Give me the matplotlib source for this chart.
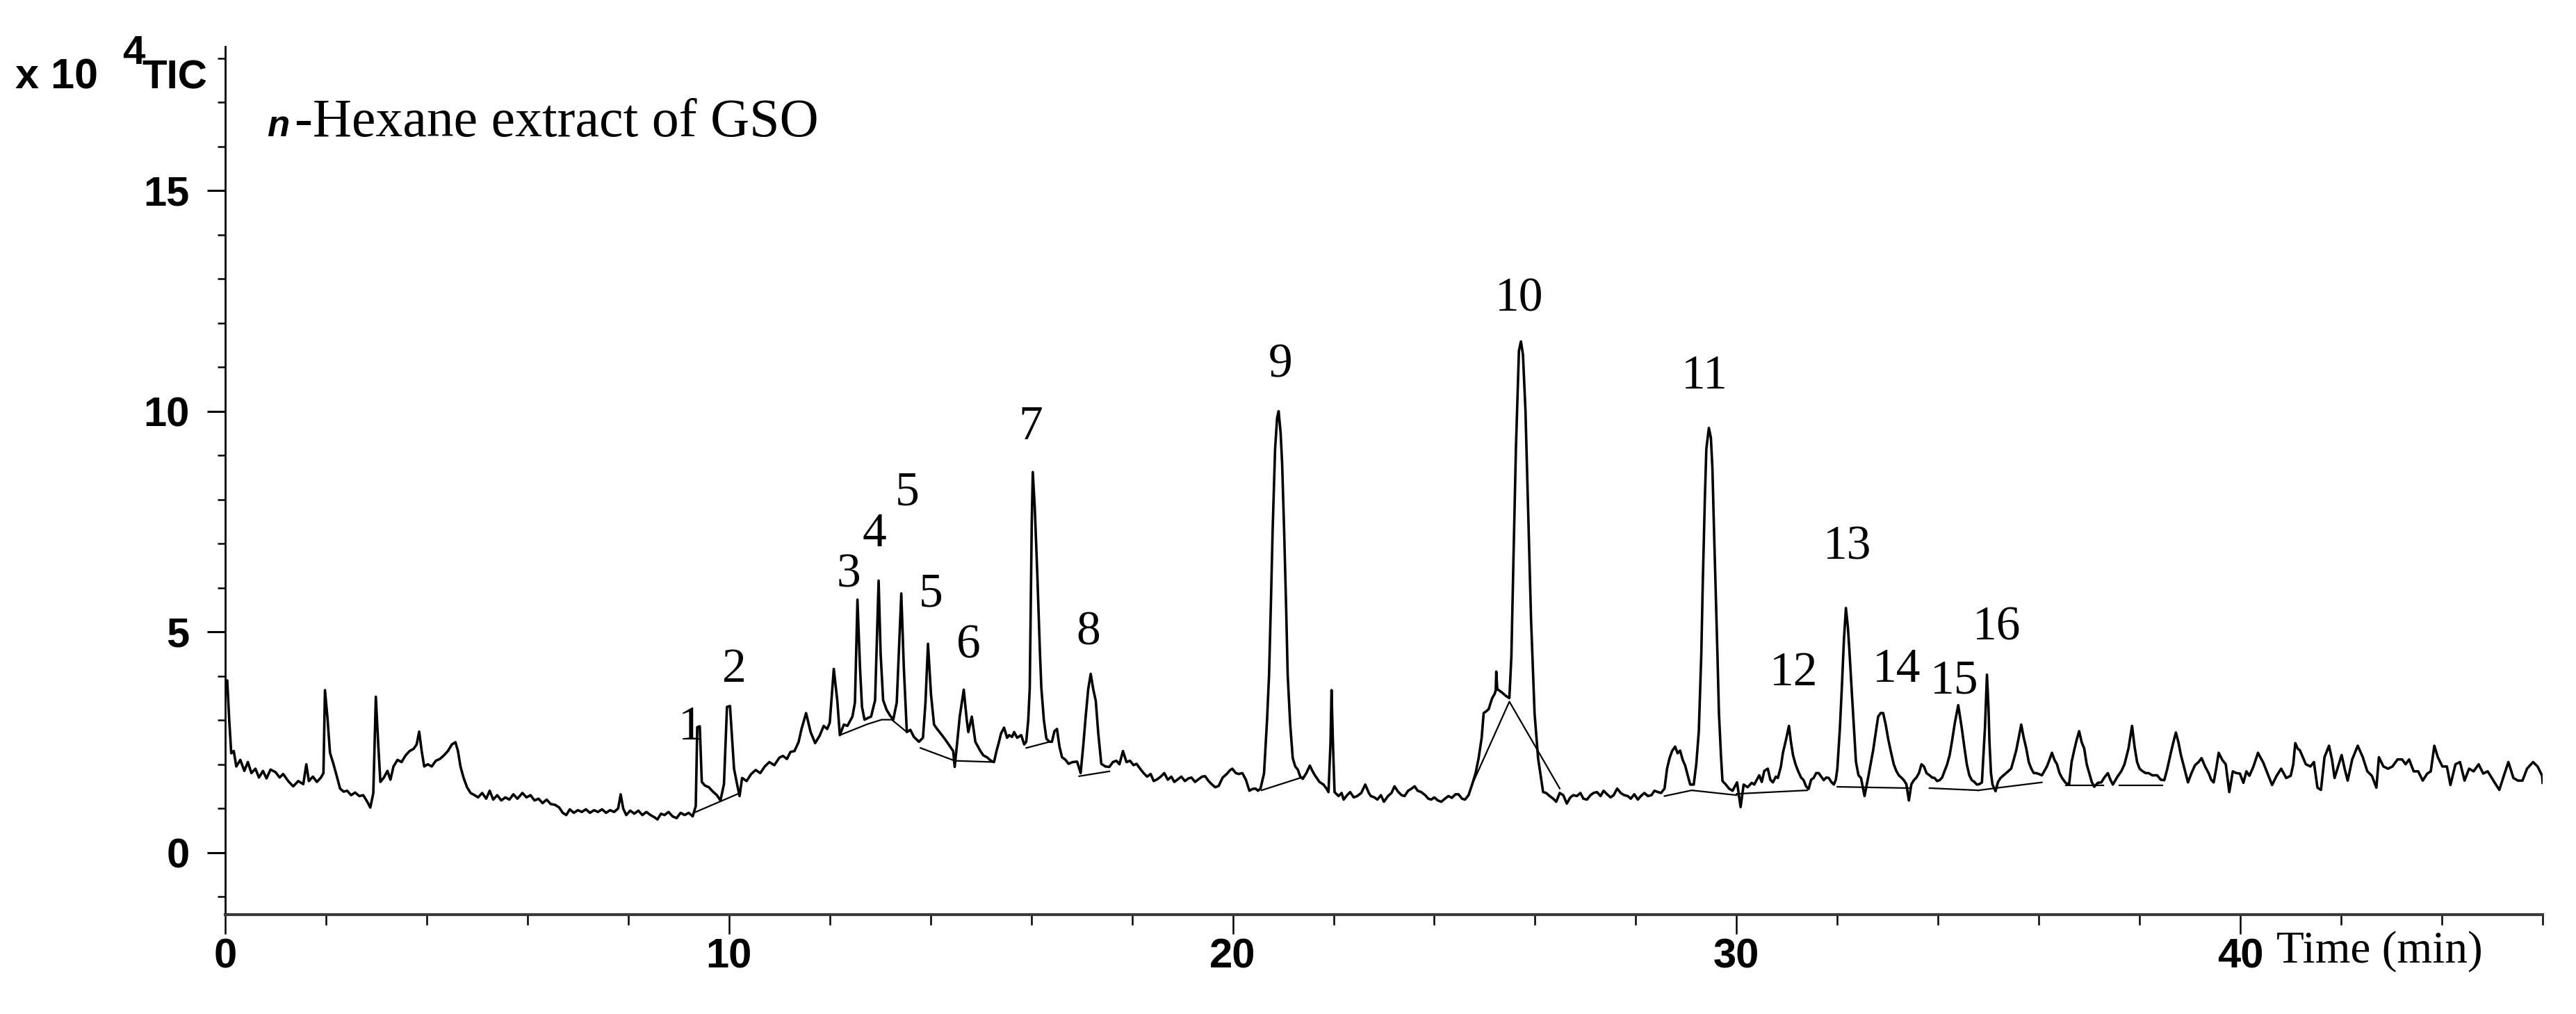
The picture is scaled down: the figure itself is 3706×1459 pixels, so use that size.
import matplotlib
matplotlib.use("Agg")
import matplotlib.pyplot as plt
from matplotlib.ticker import MultipleLocator, FixedLocator

# ---------------- data ----------------
time_min = [
    0.00, 0.04, 0.08, 0.12, 0.17, 0.22, 0.30, 0.38, 0.45, 0.52, 0.60, 0.67, 0.75, 0.82, 0.90, 1.00,
    1.08, 1.15, 1.25, 1.35, 1.45, 1.55, 1.61, 1.66, 1.74, 1.82, 1.90, 1.95, 1.98, 2.03, 2.08, 2.15,
    2.21, 2.28, 2.35, 2.42, 2.50, 2.58, 2.66, 2.74, 2.82, 2.88, 2.94, 2.99, 3.04, 3.08, 3.15, 3.22,
    3.28, 3.34, 3.42, 3.50, 3.58, 3.66, 3.74, 3.80, 3.85, 3.90, 3.95, 4.02, 4.10, 4.18, 4.26, 4.34,
    4.42, 4.50, 4.57, 4.62, 4.67, 4.73, 4.80, 4.87, 4.95, 5.02, 5.10, 5.18, 5.25, 5.32, 5.40, 5.48,
    5.56, 5.64, 5.72, 5.80, 5.90, 5.98, 6.06, 6.14, 6.22, 6.30, 6.38, 6.46, 6.55, 6.63, 6.70, 6.77,
    6.84, 6.92, 7.00, 7.08, 7.16, 7.24, 7.32, 7.40, 7.48, 7.56, 7.64, 7.72, 7.80, 7.85, 7.90, 7.96,
    8.04, 8.12, 8.20, 8.28, 8.36, 8.44, 8.52, 8.58, 8.65, 8.72, 8.80, 8.88, 8.96, 9.04, 9.12, 9.20,
    9.28, 9.34, 9.37, 9.42, 9.46, 9.52, 9.60, 9.68, 9.76, 9.83, 9.90, 9.96, 10.02, 10.06, 10.10, 10.16,
    10.21, 10.26, 10.35, 10.44, 10.53, 10.62, 10.71, 10.80, 10.90, 11.00, 11.07, 11.15, 11.22, 11.30, 11.38, 11.44,
    11.53, 11.62, 11.71, 11.80, 11.88, 11.95, 12.00, 12.08, 12.15, 12.20, 12.28, 12.35, 12.45, 12.50, 12.55, 12.60,
    12.64, 12.69, 12.76, 12.82, 12.90, 12.97, 13.01, 13.06, 13.13, 13.20, 13.26, 13.33, 13.42, 13.47, 13.53, 13.60,
    13.67, 13.77, 13.85, 13.90, 13.95, 14.01, 14.07, 14.13, 14.18, 14.28, 14.36, 14.45, 14.48, 14.53, 14.58, 14.66,
    14.72, 14.75, 14.82, 14.89, 14.99, 15.05, 15.12, 15.20, 15.26, 15.31, 15.36, 15.40, 15.46, 15.52, 15.56, 15.62,
    15.66, 15.72, 15.80, 15.86, 15.90, 15.94, 15.97, 16.01, 16.03, 16.07, 16.12, 16.17, 16.20, 16.25, 16.30, 16.36,
    16.41, 16.46, 16.51, 16.56, 16.61, 16.68, 16.74, 16.82, 16.91, 16.98, 17.03, 17.08, 17.13, 17.18, 17.23, 17.28,
    17.33, 17.39, 17.47, 17.55, 17.62, 17.69, 17.75, 17.82, 17.89, 17.96, 18.03, 18.09, 18.16, 18.23, 18.30, 18.37,
    18.43, 18.50, 18.57, 18.64, 18.71, 18.78, 18.84, 18.91, 18.98, 19.05, 19.12, 19.18, 19.25, 19.32, 19.39, 19.45,
    19.52, 19.58, 19.65, 19.72, 19.80, 19.88, 19.94, 19.99, 20.06, 20.12, 20.19, 20.26, 20.33, 20.39,
    20.45, 20.50, 20.55, 20.62, 20.68, 20.72, 20.76, 20.79, 20.84, 20.88, 20.91, 20.95, 20.98, 21.02, 21.06, 21.09,
    21.14, 21.19, 21.24, 21.29, 21.34, 21.39, 21.46, 21.53, 21.58, 21.63, 21.72, 21.80, 21.86, 21.90, 21.94, 21.96,
    21.99, 22.02, 22.10, 22.16, 22.20, 22.27, 22.33, 22.40, 22.47, 22.55, 22.63, 22.70, 22.74, 22.81, 22.87, 22.94,
    23.00, 23.08, 23.15, 23.21, 23.28, 23.35, 23.41, 23.48, 23.55, 23.61, 23.67, 23.74, 23.82, 23.88, 23.94, 24.00,
    24.07, 24.14, 24.21, 24.28, 24.35, 24.42, 24.48, 24.55, 24.61, 24.68, 24.75, 24.82, 24.88, 24.94, 24.98, 25.03,
    25.08, 25.12, 25.15, 25.20, 25.22, 25.23, 25.25, 25.28, 25.35, 25.42, 25.49, 25.53, 25.57, 25.62, 25.68, 25.72,
    25.76, 25.81, 25.86, 25.92, 25.99, 26.06, 26.16, 26.22, 26.29, 26.36, 26.42, 26.49, 26.56, 26.63, 26.70, 26.76,
    26.83, 26.90, 26.96, 27.03, 27.10, 27.16, 27.23, 27.30, 27.36, 27.43, 27.50, 27.56, 27.63, 27.70, 27.77, 27.84,
    27.90, 27.97, 28.04, 28.10, 28.17, 28.24, 28.31, 28.37, 28.44, 28.50, 28.57, 28.62, 28.67, 28.72, 28.78, 28.83,
    28.88, 28.93, 28.98, 29.03, 29.08, 29.15, 29.20, 29.25, 29.30, 29.33, 29.37, 29.40, 29.45, 29.49, 29.52, 29.55,
    29.58, 29.62, 29.65, 29.69, 29.72, 29.78, 29.85, 29.92,
    30.01, 30.08, 30.14, 30.22, 30.30, 30.35, 30.45, 30.50, 30.55, 30.62, 30.67, 30.72, 30.78, 30.82, 30.88, 30.92,
    30.98, 31.04, 31.08, 31.12, 31.17, 31.22, 31.28, 31.33, 31.38, 31.43, 31.48, 31.53, 31.58, 31.63, 31.68, 31.73,
    31.78, 31.83, 31.88, 31.93, 31.97, 32.00, 32.05, 32.09, 32.13, 32.17, 32.21, 32.24, 32.30, 32.37, 32.42, 32.47,
    32.54, 32.61, 32.66, 32.71, 32.76, 32.81, 32.86, 32.91, 32.96, 33.01, 33.06, 33.12, 33.17, 33.22, 33.27, 33.32,
    33.37, 33.42, 33.47, 33.52, 33.57, 33.62, 33.67, 33.72, 33.77, 33.83, 33.88, 33.93, 33.98, 34.03, 34.08, 34.13,
    34.18, 34.23, 34.28, 34.33, 34.40, 34.47, 34.52, 34.57, 34.62, 34.67, 34.72, 34.77, 34.82, 34.87, 34.90, 34.93,
    34.97, 35.00, 35.02, 35.05, 35.08, 35.14, 35.19, 35.24, 35.30, 35.35, 35.40, 35.45, 35.50, 35.55, 35.60, 35.65,
    35.70, 35.75, 35.80, 35.85, 35.90, 35.95, 36.00, 36.06, 36.11, 36.16, 36.21, 36.26, 36.31, 36.36, 36.41, 36.46,
    36.53, 36.60, 36.65, 36.70, 36.75, 36.80, 36.85, 36.90, 36.95, 37.00, 37.05, 37.10, 37.17, 37.24, 37.30, 37.37,
    37.42, 37.47, 37.55, 37.64, 37.70, 37.78, 37.85, 37.90, 37.95, 38.00, 38.05, 38.12, 38.18, 38.25, 38.35, 38.42,
    38.49, 38.55, 38.62, 38.67, 38.72, 38.77, 38.82, 38.89, 38.96, 39.03, 39.10, 39.17, 39.23, 39.30, 39.37, 39.42,
    39.47, 39.52, 39.57, 39.64,
    39.71, 39.78, 39.85, 39.92, 39.99, 40.06, 40.12, 40.18, 40.26, 40.35, 40.40, 40.45, 40.54, 40.63, 40.72, 40.81,
    40.91, 41.00, 41.05, 41.09, 41.14, 41.18, 41.30, 41.39, 41.46, 41.53, 41.60, 41.67, 41.76, 41.82, 41.87, 41.94,
    42.01, 42.07, 42.13, 42.22, 42.33, 42.43, 42.52, 42.61, 42.70, 42.75, 42.84, 42.93, 43.02, 43.12, 43.21, 43.28,
    43.35, 43.44, 43.53, 43.62, 43.71, 43.78, 43.85, 43.92, 44.01, 44.10, 44.17, 44.27, 44.36, 44.45, 44.54, 44.63,
    44.73, 44.82, 44.91, 45.05, 45.14, 45.23, 45.32, 45.42, 45.51, 45.60, 45.69, 45.81, 45.90, 45.99, 46.00,
]

tic_x1e4 = [
    3.85, 3.90, 3.00, 2.25, 2.30, 1.95, 2.10, 1.85, 2.05, 1.80, 1.90, 1.70, 1.85, 1.68, 1.88, 1.82,
    1.70, 1.78, 1.62, 1.50, 1.62, 1.55, 2.00, 1.62, 1.72, 1.60, 1.70, 1.80, 3.68, 3.05, 2.26, 2.00,
    1.75, 1.45, 1.38, 1.40, 1.30, 1.36, 1.28, 1.30, 1.15, 1.02, 1.35, 3.53, 2.40, 1.60, 1.70, 1.85,
    1.65, 1.95, 2.10, 2.05, 2.20, 2.30, 2.35, 2.45, 2.74, 2.30, 1.95, 2.00, 1.95, 2.08, 2.12, 2.20,
    2.30, 2.45, 2.50, 2.30, 1.95, 1.70, 1.48, 1.35, 1.30, 1.25, 1.35, 1.22, 1.40, 1.20, 1.30, 1.18,
    1.25, 1.20, 1.32, 1.22, 1.35, 1.25, 1.30, 1.18, 1.22, 1.12, 1.20, 1.10, 1.08, 1.02, 0.90, 0.85,
    0.98, 0.90, 0.96, 0.92, 0.98, 0.90, 0.96, 0.92, 0.98, 0.90, 0.96, 0.92, 1.00, 1.32, 1.00, 0.85,
    0.95, 0.88, 0.95, 0.85, 0.92, 0.85, 0.80, 0.75, 0.88, 0.85, 0.92, 0.82, 0.78, 0.90, 0.85, 0.90,
    0.82, 1.05, 2.84, 2.86, 1.60, 1.52, 1.48, 1.38, 1.30, 1.18, 1.55, 3.30, 3.32, 2.60, 1.90, 1.55,
    1.28, 1.69, 1.62, 1.78, 1.87, 1.80, 1.95, 2.05, 1.98, 2.15, 2.19, 2.12, 2.28, 2.30, 2.50, 2.80,
    3.16, 2.73, 2.48, 2.65, 2.87, 2.80, 2.94, 4.16, 3.44, 2.66, 2.90, 2.87, 3.08, 3.40, 5.73, 4.20,
    3.30, 3.01, 3.05, 3.08, 3.45, 6.16, 4.50, 3.45, 3.23, 3.10, 3.01, 3.40, 5.87, 4.20, 2.73, 2.78,
    2.62, 2.51, 2.60, 3.40, 4.73, 3.58, 2.90, 2.80, 2.73, 2.58, 2.45, 2.30, 1.94, 2.50, 3.08, 3.69,
    3.00, 2.73, 3.08, 2.51, 2.30, 2.20, 2.16, 2.08, 2.05, 2.30, 2.51, 2.70, 2.83, 2.60, 2.66, 2.62,
    2.73, 2.60, 2.66, 2.45, 2.51, 3.00, 3.73, 7.50, 8.62, 7.80, 6.30, 4.60, 3.73, 3.00, 2.58, 2.51,
    2.51, 2.75, 2.80, 2.40, 2.16, 2.10, 2.01, 2.05, 2.06, 1.80, 2.40, 3.08, 3.70, 4.05, 3.70, 3.44,
    2.70, 2.01, 1.95, 1.94, 2.05, 2.08, 2.00, 2.30, 2.05, 2.08, 1.98, 2.01, 1.90, 1.80, 1.72, 1.78,
    1.62, 1.66, 1.72, 1.80, 1.65, 1.72, 1.60, 1.66, 1.72, 1.62, 1.68, 1.70, 1.60, 1.66, 1.72, 1.73,
    1.62, 1.55, 1.48, 1.51, 1.70, 1.78, 1.86, 1.90, 1.80, 1.78, 1.80, 1.65, 1.40, 1.44,
    1.45, 1.40, 1.45, 1.79, 3.00, 4.02, 5.80, 7.26, 9.15, 9.85, 10.00, 9.50, 8.80, 7.26, 5.50, 4.02,
    2.90, 2.14, 1.95, 1.88, 1.72, 1.67, 1.80, 1.97, 1.85, 1.75, 1.60, 1.54, 1.45, 1.37, 2.50, 3.68,
    2.40, 1.37, 1.28, 1.35, 1.20, 1.30, 1.37, 1.25, 1.28, 1.35, 1.54, 1.35, 1.28, 1.25, 1.20, 1.30,
    1.15, 1.28, 1.35, 1.50, 1.38, 1.30, 1.28, 1.40, 1.45, 1.50, 1.40, 1.37, 1.30, 1.22, 1.20, 1.25,
    1.18, 1.15, 1.22, 1.28, 1.24, 1.32, 1.32, 1.22, 1.20, 1.30, 1.54, 1.80, 2.14, 2.60, 3.16, 3.20,
    3.25, 3.40, 3.50, 3.60, 3.68, 4.10, 3.70, 3.68, 3.62, 3.55, 3.50, 4.44, 6.58, 9.15, 11.37, 11.58,
    11.28, 10.00, 7.86, 5.30, 3.16, 2.14, 1.37, 1.35, 1.28, 1.22, 1.15, 1.35, 1.30, 1.11, 1.25, 1.30,
    1.28, 1.35, 1.22, 1.20, 1.30, 1.35, 1.37, 1.28, 1.40, 1.32, 1.25, 1.30, 1.45, 1.35, 1.30, 1.28,
    1.22, 1.32, 1.20, 1.28, 1.35, 1.28, 1.30, 1.40, 1.37, 1.35, 1.45, 1.90, 2.14, 2.30, 2.40, 2.25,
    2.31, 2.10, 1.97, 1.75, 1.54, 1.54, 2.00, 2.74, 4.50, 6.15, 8.00, 9.15, 9.62, 9.40, 8.72, 7.40,
    6.15, 4.50, 3.16, 2.20, 1.62, 1.55, 1.45, 1.40,
    1.59, 1.03, 1.54, 1.48, 1.58, 1.54, 1.75, 1.60, 1.85, 1.90, 1.65, 1.59, 1.72, 1.69, 1.95, 2.26,
    2.55, 2.87, 2.50, 2.21, 2.00, 1.85, 1.70, 1.64, 1.50, 1.44, 1.65, 1.69, 1.80, 1.80, 1.72, 1.64,
    1.70, 1.69, 1.60, 1.54, 1.65, 1.90, 2.80, 3.75, 4.80, 5.54, 5.10, 4.57, 3.39, 2.05, 1.75, 1.69,
    1.28, 1.69, 2.00, 2.31, 2.70, 3.08, 3.16, 3.16, 2.90, 2.57, 2.30, 2.00, 1.85, 1.75, 1.70, 1.64,
    1.55, 1.18, 1.55, 1.64, 1.70, 1.80, 2.00, 1.95, 1.80, 1.75, 1.70, 1.69, 1.62, 1.64, 1.70, 1.85,
    2.00, 2.21, 2.55, 2.92, 3.34, 2.82, 2.40, 2.00, 1.75, 1.64, 1.60, 1.54, 1.55, 1.59, 2.20, 2.82,
    4.03, 3.30, 2.50, 1.80, 1.54, 1.39, 1.60, 1.69, 1.75, 1.80, 1.85, 1.90, 2.10, 2.31, 2.60, 2.90,
    2.60, 2.36, 2.05, 1.90, 1.80, 1.80, 1.78, 1.75, 1.85, 1.95, 2.10, 2.26, 2.10, 2.00, 1.80, 1.69,
    1.58, 1.54, 2.05, 2.31, 2.55, 2.75, 2.50, 2.36, 2.00, 1.80, 1.60, 1.49, 1.58, 1.59, 1.70, 1.80,
    1.65, 1.54, 1.70, 1.85, 2.00, 2.36, 2.87, 2.40, 2.05, 1.90, 1.85, 1.80, 1.80, 1.75, 1.75, 1.65,
    1.64, 1.90, 2.26, 2.50, 2.72, 2.50, 2.21, 1.90, 1.59, 1.80, 1.98, 2.05, 2.14, 1.95, 1.80, 1.65,
    1.59, 1.90, 2.26, 2.10,
    2.00, 1.37, 1.84, 1.80, 1.79, 1.58, 1.84, 1.74, 1.95, 2.26, 2.15, 2.05, 1.79, 1.53, 1.74, 1.90,
    1.69, 1.74, 2.00, 2.48, 2.35, 2.32, 2.00, 1.95, 2.05, 1.47, 1.42, 2.16, 2.42, 2.10, 1.69, 1.95,
    2.21, 1.90, 1.63, 2.11, 2.42, 2.16, 1.84, 1.74, 1.47, 2.16, 1.95, 1.90, 1.95, 2.11, 2.11, 2.00,
    2.11, 1.84, 1.84, 1.63, 1.79, 1.84, 2.42, 2.16, 1.95, 1.95, 1.53, 2.00, 2.05, 1.63, 1.90, 1.84,
    2.00, 1.79, 1.84, 1.58, 1.42, 1.74, 2.05, 1.69, 1.63, 1.63, 1.90, 2.05, 1.95, 1.74, 1.58,
]

# integration baselines drawn under the peaks: (time, intensity) vertices
baseline_segments = [
    [(9.30, 0.90), (10.22, 1.35)],
    [(12.20, 2.66), (12.75, 2.91), (13.03, 3.01), (13.23, 3.01), (13.53, 2.73)],
    [(13.80, 2.37), (14.48, 2.08), (15.26, 2.05)],
    [(15.90, 2.37), (16.37, 2.51)],
    [(16.95, 1.73), (17.55, 1.84)],
    [(20.57, 1.41), (21.39, 1.71)],
    [(24.75, 1.54), (25.49, 3.42), (26.49, 1.45)],
    [(28.57, 1.28), (29.11, 1.41), (30.00, 1.30)],
    [(30.00, 1.33), (31.40, 1.41)],
    [(32.00, 1.49), (33.42, 1.46)],
    [(33.83, 1.46), (34.80, 1.41)],
    [(34.80, 1.41), (35.35, 1.49), (36.06, 1.59)],
    [(36.54, 1.52), (37.28, 1.52)],
    [(37.60, 1.52), (38.45, 1.52)],
]

peak_labels = ["1", "2", "3", "4", "5", "5", "6", "7", "8", "9", "10", "11", "12", "13", "14", "15", "16"]
peak_label_t = [9.23, 10.11, 12.37, 12.89, 13.54, 14.00, 14.75, 15.99, 17.13, 20.95, 25.68, 29.36, 31.13, 32.20, 33.18, 34.32, 35.17]
peak_label_v = [2.83, 4.13, 6.28, 7.21, 8.14, 5.84, 4.68, 9.63, 4.98, 11.04, 12.53, 10.78, 4.05, 6.91, 4.13, 3.87, 5.09]

x_major = [0, 10, 20, 30, 40]
x_major_labels = ["0", "10", "20", "30", "40"]
y_major = [0, 5, 10, 15]
y_major_labels = ["0", "5", "10", "15"]

# ---------------- figure ----------------
W, H, DPI = 3706, 1459, 100
fig = plt.figure(figsize=(W / DPI, H / DPI), dpi=DPI)
fig.patch.set_facecolor("white")
ax = fig.add_axes([324 / W, (H - 1316) / H, (3658 - 324) / W, (1316 - 67) / H])
ax.set_xlim(0, 46)
ax.set_ylim(-1.406, 18.26)

ax.plot(time_min, tic_x1e4, color="black", lw=2.6, solid_joinstyle="round")
for seg in baseline_segments:
    ts, vs = zip(*seg)
    ax.plot(ts, vs, color="black", lw=1.6)

serif = ["Liberation Serif", "DejaVu Serif"]
narrow = ["Liberation Sans Narrow", "Liberation Sans", "DejaVu Sans"]

for lab, t, v in zip(peak_labels, peak_label_t, peak_label_v):
    ax.text(t, v, lab, ha="center", va="center", fontsize=50, family=serif, color="black")

for s in ("top", "right"):
    ax.spines[s].set_visible(False)
ax.spines["left"].set_linewidth(2.0)
ax.spines["bottom"].set_linewidth(3.0)
ax.spines["bottom"].set_color("#3a3a3a")

ax.xaxis.set_major_locator(FixedLocator(x_major))
ax.set_xticklabels(x_major_labels)
ax.xaxis.set_minor_locator(MultipleLocator(2))
ax.yaxis.set_major_locator(FixedLocator(y_major))
ax.set_yticklabels(y_major_labels)
ax.yaxis.set_minor_locator(MultipleLocator(1))
ax.tick_params(axis="x", which="major", direction="out", length=20, width=1.8, pad=4, labelsize=43)
ax.tick_params(axis="x", which="minor", direction="out", length=11, width=1.8)
ax.tick_params(axis="y", which="major", direction="out", length=19, width=2.2, pad=18, labelsize=43)
ax.tick_params(axis="y", which="minor", direction="out", length=8, width=1.8)
for lbl in ax.get_xticklabels() + ax.get_yticklabels():
    lbl.set_family(narrow)
    lbl.set_fontweight("bold")

# y-axis unit label
fig.text(22 / W, 1 - 127 / H, "x 10", fontsize=44, family=narrow, fontweight="bold", va="baseline", ha="left")
fig.text(176 / W, 1 - 92 / H, "4", fontsize=42, family=narrow, fontweight="bold", va="baseline", ha="left")
fig.text(204 / W, 1 - 127 / H, "TIC", fontsize=42, family=narrow, fontweight="bold", va="baseline", ha="left")

# title
fig.text(384 / W, 1 - 196 / H, "n", fontsize=38, family=["Liberation Sans", "DejaVu Sans"],
         fontweight="bold", style="italic", va="baseline", ha="left")
fig.text(424 / W, 1 - 196 / H, "-Hexane extract of GSO", fontsize=56, family=serif,
         va="baseline", ha="left")

# x-axis title next to the 40 tick label
fig.text(3275 / W, 1 - 1385 / H, "Time (min)", fontsize=47, family=serif, va="baseline", ha="left")

fig.savefig("out.png", dpi=DPI, facecolor="white")
